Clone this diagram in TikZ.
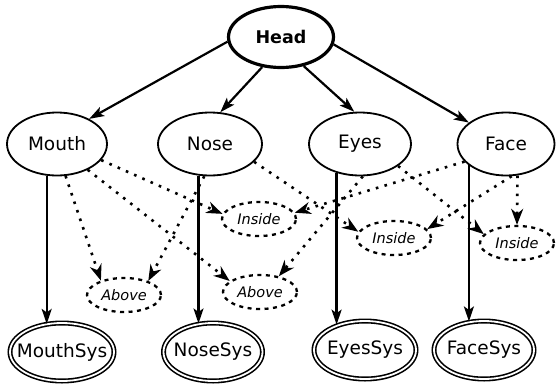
\documentclass[tikz,border=0pt]{standalone}
\usepackage{fontspec}
\setmainfont{DejaVu Sans}
\usetikzlibrary{shapes.geometric,arrows.meta}
\tikzset{
  part/.style={draw, ellipse, inner sep=0pt, line width=1.8pt, minimum height=63pt,
    font=\fontsize{18.5}{21}\selectfont},
  headnode/.style={draw, ellipse, inner sep=0pt, line width=3.2pt, minimum width=105pt,
    minimum height=61pt, font=\fontsize{17.5}{20}\selectfont\bfseries},
  sysnode/.style={draw, ellipse, inner ysep=0pt, inner xsep=-16pt, double, double distance=1.8pt,
    line width=1.6pt, minimum width=99pt, minimum height=58pt, font=\fontsize{18.5}{21}\selectfont},
  relnode/.style={draw, ellipse, inner sep=0pt, line width=2.3pt, dash pattern=on 4pt off 4.5pt,
    minimum width=74pt, minimum height=34pt, font=\fontsize{14.5}{17}\selectfont\itshape},
  solidarrow/.style={line width=2.2pt, -{Stealth[length=15pt,width=10pt,inset=3.5pt]}},
  dotarrow/.style={line width=2.6pt, dash pattern=on 2.6pt off 6.4pt,
    -{Stealth[length=16pt,width=12pt,inset=5pt]}}
}
\begin{document}
\begin{tikzpicture}[x=1pt,y=-1pt]
\useasboundingbox (0,0) rectangle (557,386);
% top
\node[headnode] (Head) at (281,37) {Head};
\node[part, minimum width=100pt] (Mouth) at (57,144) {Mouth};
\node[part, minimum width=104pt] (Nose) at (210,144) {Nose};
\node[part, minimum width=102pt] (Eyes) at (360,144) {Eyes};
\node[part, minimum width=97pt] (Face) at (506,144) {Face};
% sys
\node[sysnode, minimum width=104pt] (MouthSys) at (62,352) {MouthSys};
\node[sysnode] (NoseSys) at (213,352) {NoseSys};
\node[sysnode, minimum width=102pt] (EyesSys) at (365,350) {EyesSys};
\node[sysnode, minimum width=100pt] (FaceSys) at (484,350) {FaceSys};
% relations
\node[relnode] (Inside1) at (259,219) {Inside};
\node[relnode] (Inside2) at (394,238) {Inside};
\node[relnode] (Inside3) at (517,243) {Inside};
\node[relnode] (Above1) at (124,295) {Above};
\node[relnode] (Above2) at (260,292) {Above};
% head edges
\draw[solidarrow] (Head.185) -- (Mouth.38);
\draw[solidarrow] (Head.238) -- (Nose.72);
\draw[solidarrow] (Head.-52) -- (Eyes.100);
\draw[solidarrow] (Head.-8) -- (Face.150);
% vertical edges
\draw[solidarrow] (Mouth.252) -- (Mouth.252 |- MouthSys.122);
\draw[solidarrow] (Nose.250) -- (Nose.250 |- NoseSys.117);
\draw[solidarrow] (Eyes.231) -- (Eyes.231 |- EyesSys.137);
\draw[solidarrow] (Face.210) -- (Face.210 |- FaceSys.117);
% dotted relation edges
\draw[dotarrow] (Mouth.285) -- (Above1.148);
\draw[dotarrow] (Mouth.-40) -- (Above2.160);
\draw[dotarrow] (Mouth.-20) -- (Inside1.172);
\draw[dotarrow] (Nose.260) -- (Above1.30);
\draw[dotarrow] (Nose.-22) -- (Inside2.170);
\draw[dotarrow] (Face.203) -- (Inside1.10);
\draw[dotarrow] (Eyes.275) -- (Above2.40);
\draw[dotarrow] (Eyes.-30) -- (Inside3.165);
\draw[dotarrow] (Face.280) -- (Inside2.15);
\draw[dotarrow] (Face.-70) -- (Inside3.north);
\end{tikzpicture}
\end{document}
